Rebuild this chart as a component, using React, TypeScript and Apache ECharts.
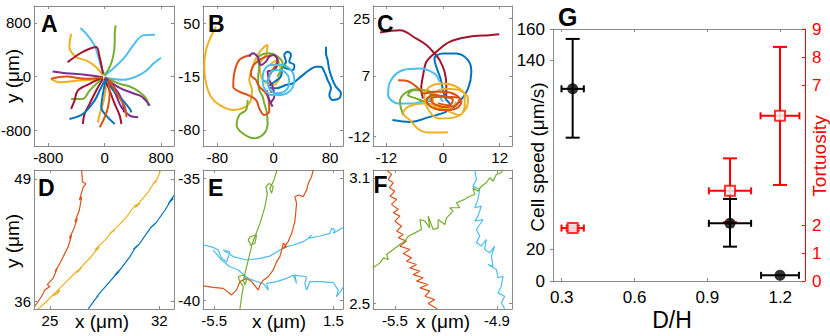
import React, { useEffect, useRef } from "react";
import * as echarts from "echarts";

// ---------- DATA ----------
// Panel A trajectories (x, y in µm)
const A_paths: number[][][] = [
  [[-343,725],[-262,640],[-143,465],[-95,315],[-48,140],[0,15]],
  [[0,15],[143,140],[286,290],[405,465],[547,615],[714,625]],
  [[0,-20],[262,-50],[452,0],[595,90],[690,190],[800,280]],
  [[0,15],[71,140],[119,290],[143,490],[143,640],[157,765]],
  [[0,-10],[214,-110],[357,-150],[500,-235],[595,-335],[619,-435]],
  [[-24,-10],[-119,-110],[-214,-210],[-309,-335],[-476,-335]],
  [[-476,640],[-500,440],[-405,290],[-262,240],[-119,140],[-24,15]],
  [[-762,-35],[-643,-85],[-357,-60],[-167,-50],[-24,-20]],
  [[24,-35],[14,-210],[-24,-410],[-71,-560],[-95,-685]],
  [[-524,215],[-357,340],[-214,415],[-119,440],[-71,290],[-24,40]],
  [[-24,-10],[-214,-110],[-381,-210],[-428,-360],[-476,-485]],
  [[-24,-35],[-119,-210],[-214,-410],[-286,-560],[-309,-710]],
  [[0,-35],[71,-210],[143,-410],[214,-585],[238,-710]],
  [[-738,75],[-547,50],[-309,30],[-24,-10]],
  [[0,-20],[214,-170],[405,-250],[524,-300],[643,-435]],
  [[24,-35],[143,-235],[238,-460],[357,-585],[476,-610]],
  [[24,-35],[190,-235],[262,-410],[271,-535]],
  [[0,-60],[-71,-210],[-143,-360],[-309,-560],[-500,-635]],
  [[14,-60],[-24,-260],[-48,-460],[24,-585],[143,-710]],
  [[24,-60],[143,-235],[262,-360],[357,-485],[381,-535]],
  [[-24,-10],[-262,-35],[-547,0],[-762,-35]],
  [[48,-60],[71,-260],[48,-460],[0,-610],[-71,-760]],
  [[71,-60],[190,-285],[286,-450],[309,-610]],
];
const A_colors = ["lb","lb","lb","g","g","g","y","y","y","dr","dr","dr","dr","p","p","p","p","b","b","b","o","o","o"];

// Panel B trajectories
const B_paths: number[][][] = [
  [[-81.9,45.9],[-89,33.7],[-96,17.5],[-98.5,-2.8],[-96,-23.1],[-89,-39.4],[-77,-49.5],[-58.2,-55.6],[-41.7,-52.4],[-32.2,-43.4],[-30.8,-31.2],[-34.6,-19.1],[-29.8,-2.8],[-22.7,11.4],[-13.3,21.5],[-8.5,23.6],[-10.9,11.4],[-20,0],[-15,-20],[0,-25],[10,-10],[5,5],[-5,0]],
  [[12.8,-2.8],[17.5,3.3],[15.1,11.4],[19.9,15.5],[24.6,11.4],[22.2,3.3],[29.4,-0.8],[27,-6.9],[17.5,-4.9],[12.8,-2.8],[10,-15],[-6.2,-27.2],[3.3,-29.2],[17.5,-25.2],[27,-23.1],[38.8,-15],[50.7,-6.9],[60.1,-2.8],[67.2,-2.8],[71.9,-8.9],[76.7,-19.1],[81.4,-29.2],[79.1,-37.3],[83.8,-43.4],[93.3,-41.4],[95.6,-35.3],[88.5,-27.2],[83.8,-19.1],[79.1,-6.9],[76.7,5.3],[74.3,13.4],[74.3,21.5]],
  [[-36.9,-43.4],[-39.3,-55.6],[-48.8,-61.7],[-52.6,-73.9],[-44.1,-84],[-27.5,-90.1],[-13.3,-84],[-8.5,-71.8],[-9.9,-57.6],[-13.3,-47.5],[-15.6,-39.4],[-20.4,-31.2],[-22,-15],[-20.4,-2.8],[-22.7,5.3],[-18,11.4],[-6.2,13.4],[5.7,9.4],[12.8,1.2],[10.4,-6.9],[5,-15]],
  [[-32.2,11.4],[-48.8,5.3],[-55.9,-10.9],[-57.3,-27.2],[-48.8,-33.3],[-36.9,-37.3],[-25.1,-43.4],[-19.4,-55.6],[-13.3,-61.7],[-6.2,-57.6],[-7.1,-43.4],[-10.9,-35.3],[-20.4,-27.2],[-25.1,-19.1],[-32.2,-13],[-29.8,-2.8],[-20.4,5.3],[-10.9,9.4],[-1.4,11.4],[5.7,5.3],[0,-5],[-8,-20],[-3,-35]],
  [[-34.6,9.4],[-29.8,13.4],[-22.7,9.4],[-18,-0.8],[-10.9,3.3],[-6.2,9.4],[0.9,11.4],[5.7,3.3],[0.9,-6.9],[-8.5,-8.9],[-6.2,-19.1],[-1.4,-27.2],[0.9,-39.4],[-3.8,-47.5],[-1.4,-51.5],[-6.2,-43.4],[-9.9,-31.2]],
  [[-15.6,-19.1],[-13.3,-6.9],[-3.8,-0.8],[10.4,-0.8],[24.6,-6.9],[29.4,-19.1],[24.6,-31.2],[10.4,-37.3],[-3.8,-37.3],[-13.3,-29.2],[-15.6,-19.1],[-8.5,-21.1],[-3.8,-8.9],[8,-6.9],[19.9,-13],[22.2,-23.1],[15.1,-33.3],[3.3,-35.3],[-6.2,-29.2],[-8.5,-21.1]],
];
const B_colors = ["y","b","g","o","p","lb"];

// Panel C trajectories
const C_paths: number[][][] = [
  [[-13.3,20.5],[-9.1,21.2],[-5.6,18.6],[-3.5,16.6],[-1.8,14],[-0.7,11.9],[0.35,8.2],[0.7,4.1],[0.7,-0.1]],
  [[11.9,20],[9.8,19.7],[5.6,19.2],[1.4,17.6],[-1.8,14],[-3.5,11.4],[-4.2,7.2],[-4.6,3],[-4.2,-0.1]],
  [[-10.7,-6.8],[-7,-7.4],[-2.8,-5.8],[0.7,-4.2],[3.5,-1.1],[5.3,3],[6,8.2],[5.3,11.9],[2.8,14],[0,14],[-1.8,12.4],[-0.5,6],[0.5,0],[1.5,-2],[0.5,-3]],
  [[-0.7,5.1],[-1.8,7.7],[-4.9,9.3],[-8.4,8.8],[-11.2,5.1],[-11.6,1],[-9.5,-1.6],[-6.3,-1.6],[-3.5,-0.6],[-1.4,1],[0,-1.1]],
  [[-8.4,-5.3],[-9.1,-1.1],[-8.1,1.5],[-5.6,2.8],[-3.2,2],[-2.1,-0.1],[-3.5,-1.1],[-5.6,-0.1],[-7.4,1],[-6.3,2.5],[-3.5,2.5],[-1.4,0.5]],
  [[1.1,-10.6],[-0.7,-10.7],[-3.2,-10.7],[-5.3,-9.5],[-7,-6.8],[-8.4,-4.7],[-7.4,-2.7],[-4.2,-1.6],[-1.4,-2.2],[1.4,-4.2],[3.5,-5.3],[4.6,-2.2],[4.6,1],[2.8,3.6],[0,4.6],[-2.8,3.6],[-3.9,0.5],[-2.8,-4.2],[-0.7,-6.3],[2.8,-5.8],[4.9,-3.2],[5.3,-0.1],[3.5,2.5],[0.7,3],[-1.8,1.5],[-2.1,-1.1],[-1.1,-3.2],[1.4,-3.2],[2.8,-1.1]],
  [[-9.5,5.6],[-7.4,5.3],[-5.6,3.6],[-3.9,1.5],[-2.1,2],[0,2],[2.8,1],[3.9,-1.1],[2.8,-3.2],[0,-3.7],[-2.5,-2.7],[-3.5,-0.6],[-2.1,1],[0.7,0.5],[3.5,-0.1],[2.8,-2.2],[0.35,-2.7],[-2.1,-1.6],[-2.5,-0.1],[-0.7,0.5],[2.1,-0.6],[1.4,-2.2],[-1.1,-1.6]],
];
const C_colors = ["dr","dr","b","lb","g","y","o"];

// Panel D trajectories
const D_paths: number[][][] = [
  [[24.04,35.47],[24.47,36.53],[24.68,37.23],[25,37.58],[24.83,37.76],[25.21,38.46],[25.47,39.51],[25.32,39.16],[25.64,40.04],[25.96,41.1],[25.85,40.74],[26.17,41.8],[26.39,43.03],[26.24,42.68],[26.54,43.73],[26.75,44.79],[26.6,44.43],[26.88,45.66],[27.03,47.07],[26.88,46.72],[27.13,48.12],[27.3,48.47],[27.09,48.65],[27.03,49.88]],
  [[24.25,35.19],[24.68,35.82],[25,36.35],[25.32,36.88],[25.64,37.16],[25.47,36.81],[25.21,36.6],[25.53,37.23],[26.07,38.11],[26.71,39.16],[27.03,39.62],[26.88,39.27],[26.71,39.06],[27.13,39.87],[27.56,40.57],[27.99,41.45],[28.16,41.73],[27.88,41.45],[28.09,41.8],[28.63,42.68],[28.95,43.38],[29.16,43.56],[28.84,43.2],[29.27,43.84],[29.91,44.96],[30.44,46.19],[30.76,46.37],[30.44,45.94],[30.76,46.54],[31.3,47.6],[31.62,48.47],[31.83,48.76],[31.57,48.4],[31.83,48.9],[32.08,49.88]],
  [[27.45,35.19],[27.88,36.18],[28.09,36.6],[27.99,36.46],[28.2,36.88],[28.84,38.11],[29.27,38.92],[29.44,39.16],[29.16,38.81],[29.48,39.34],[30.12,40.74],[30.44,41.62],[30.66,41.97],[30.34,41.52],[30.72,42.08],[31.19,43.2],[31.51,43.91],[31.72,44.19],[31.44,43.84],[31.79,44.33],[32.36,45.66],[32.68,46.54],[32.9,46.89],[32.58,46.37],[32.94,47.24]],
];
const D_colors = ["o","y","b"];

// Panel E trajectories
const E_paths: number[][][] = [
  [[-6.15,-37.73],[-5.56,-37.83],[-5.26,-37.94],[-5.07,-38.28],[-4.77,-38.42],[-4.58,-38.01],[-4.97,-37.94],[-4.38,-38.21],[-3.6,-38.35],[-2.81,-38.28],[-2.23,-38.19],[-1.64,-37.94],[-1.25,-37.8],[-0.85,-37.73],[-0.27,-37.59],[0.03,-37.46],[0.22,-37.32],[0.03,-37.46],[0.71,-37.36],[1.3,-37.25],[1.4,-37.04],[1.6,-37.11],[1.5,-37.25],[2.09,-37]],
  [[-5.56,-37.94],[-5.07,-38.35],[-4.58,-38.63],[-4.09,-38.76],[-3.5,-39.11],[-3.01,-39.24],[-2.62,-39.31],[-2.32,-39.59],[-2.42,-39.31],[-1.83,-39.24],[-1.25,-39.11],[-0.85,-38.97],[-0.66,-39.31],[-0.76,-38.97],[-0.07,-39.04],[-0.17,-39.31],[-0.07,-39.59],[0.13,-39.24],[0.71,-39.24],[1.5,-39.28],[1.79,-39.59],[1.69,-39.86],[1.99,-39.59],[2.09,-39.45]],
  [[-6.15,-39.42],[-5.56,-39.48],[-4.97,-39.52],[-4.48,-39.79],[-4.19,-39.59],[-3.99,-39.24],[-3.6,-39.11],[-3.3,-39.24],[-2.91,-39.59],[-2.81,-39.38],[-2.62,-39.18],[-2.32,-39.04],[-2.03,-38.76],[-1.83,-38.42],[-1.64,-38.21],[-1.54,-37.94],[-1.44,-37.66],[-1.25,-37.8],[-1.44,-37.87],[-1.15,-37.59],[-0.95,-37.25],[-0.76,-36.77],[-0.66,-36.02],[-0.76,-35.74],[-0.56,-35.67],[-0.27,-35.74],[-0.17,-35.6],[-0.07,-35.47],[0.03,-35.19],[0.22,-34.92],[0.32,-34.64]],
  [[-3.99,-40.38],[-3.89,-39.86],[-3.79,-39.45],[-3.99,-39.24],[-4.09,-39.04],[-3.79,-38.97],[-3.6,-39.18],[-3.7,-39.38],[-3.79,-39.18],[-3.6,-38.63],[-3.4,-38.08],[-3.3,-37.8],[-3.5,-37.53],[-3.4,-37.39],[-3.01,-37.32],[-3.11,-37.66],[-3.3,-37.73],[-3.11,-37.39],[-2.81,-36.84],[-2.52,-36.16],[-2.38,-35.6],[-2.46,-35.33],[-2.27,-35.19],[-2.03,-35.33],[-2.13,-35.6],[-2.23,-35.4],[-1.99,-35.05],[-1.87,-34.78],[-1.8,-34.64]],
];
const E_colors = ["lb","lb","o","g"];

// Panel F trajectories
const F_paths: number[][][] = [
  [[-5.549,3.137],[-5.52,3.116],[-5.539,3.092],[-5.51,3.076],[-5.533,3.052],[-5.5,3.036],[-5.529,3.012],[-5.49,2.997],[-5.52,2.973],[-5.48,2.949],[-5.51,2.933],[-5.471,2.917],[-5.5,2.893],[-5.461,2.869],[-5.49,2.845],[-5.451,2.829],[-5.48,2.814],[-5.432,2.798],[-5.471,2.774],[-5.412,2.758],[-5.451,2.739],[-5.402,2.718],[-5.432,2.702],[-5.373,2.686],[-5.412,2.67],[-5.353,2.654],[-5.393,2.638],[-5.334,2.623],[-5.373,2.607],[-5.305,2.591],[-5.353,2.575],[-5.295,2.559],[-5.324,2.535],[-5.266,2.519],[-5.305,2.5],[-5.252,2.475]],
  [[-5.031,3.137],[-5.021,3.092],[-5.041,3.06],[-5.002,3.044],[-5.012,2.997],[-5.031,2.957],[-4.992,2.965],[-5.012,2.917],[-5.031,2.893],[-4.982,2.901],[-5.021,2.853],[-5.002,2.821],[-5.021,2.79],[-4.992,2.774],[-4.963,2.806],[-4.973,2.758],[-4.943,2.742],[-4.914,2.774],[-4.933,2.726],[-4.924,2.678],[-4.953,2.686],[-4.904,2.662],[-4.894,2.623],[-4.865,2.63],[-4.875,2.583],[-4.894,2.551],[-4.855,2.535],[-4.875,2.503],[-4.855,2.475]],
  [[-5.631,2.67],[-5.588,2.694],[-5.568,2.718],[-5.539,2.71],[-5.549,2.734],[-5.51,2.758],[-5.471,2.782],[-5.441,2.798],[-5.422,2.821],[-5.383,2.837],[-5.344,2.853],[-5.353,2.901],[-5.324,2.893],[-5.295,2.861],[-5.305,2.917],[-5.275,2.853],[-5.246,2.861],[-5.246,2.901],[-5.207,2.877],[-5.197,2.909],[-5.158,2.941],[-5.178,2.957],[-5.119,2.957],[-5.139,2.981],[-5.09,2.997],[-5.06,3.012],[-5.031,3.02],[-5.041,3.052],[-5.012,3.036],[-4.992,3.06],[-4.963,3.076],[-4.943,3.1],[-4.924,3.084],[-4.904,3.116],[-4.875,3.124],[-4.865,3.14]],
];
const F_colors = ["o","lb","g"];

// Panel G
const dh = [0.345, 0.993, 1.199];
const dhErrSpeed = [0.046, 0.087, 0.078];
const speed = [122, 36.6, 3.6];
const speedLo = [91, 21.8, 3.6];
const speedHi = [153.7, 52.1, 3.6];
const dhErrTort = [0.046, 0.087, 0.08];
const tortuosity = [1.89, 3.22, 5.9];
const tortLo = [1.8, 2.1, 3.43];
const tortHi = [1.98, 4.38, 8.36];

// Axis ranges and tick labels per panel (A..G)
const xRanges = [[-1003, 985], [-100.3, 98.5], [-14.8, 14.6], [23.98, 32.94], [-6.16, 2.07], [-5.629, -4.812], [0.264, 1.302]];
const yRanges = [[-1039, 1054], [-99.5, 71.1], [-14.9, 28.8], [35.18, 49.93], [-40.37, -34.64], [2.474, 3.137], [0, 160]];
const xTicks = [[-800, 0, 800], [-80, 0, 80], [-12, 0, 12], [25, 32], [-5.5, 1.5], [-5.5, -4.9], [0.3, 0.6, 0.9, 1.2]];
const yTicks = [[-800, 0, 800], [-80, -15, 50], [-12, 7, 25], [36, 49], [-40, -35], [2.5, 3.1], [0, 20, 140, 160]];
const tortRange = [0, 9];
const tortTicks = [0, 1, 2, 7, 8, 9];
const panelLetters = ["A", "B", "C", "D", "E", "F", "G"];

// ---------- STYLE / LAYOUT ----------
const PALETTE: Record<string, string> = {
  b: "#0072BD", o: "#D95319", y: "#EDB120", p: "#7E2F8E", g: "#77AC30", lb: "#4DBEEE", dr: "#A2142F",
};
const FONT = '"Liberation Sans", Arial, Helvetica, sans-serif';
const FRAME = "#8a8a8a";
const RED = "#FF0000";
const BOXES = [
  { left: 34, top: 6, width: 140, height: 140 },
  { left: 203, top: 6, width: 140, height: 140 },
  { left: 373, top: 6, width: 139, height: 140 },
  { left: 34, top: 170, width: 140, height: 139 },
  { left: 203, top: 170, width: 140, height: 139 },
  { left: 373, top: 170, width: 139, height: 139 },
  { left: 553, top: 29, width: 252, height: 252 },
];
const LETTER_POS = [[41, 23.5], [208, 23.5], [377, 23.5], [38, 187.5], [208, 187.5], [373.5, 185], [558, 17]];

const fmt = (v: number) => String(+Number(v).toFixed(4));

function axis(dim: "x" | "y", gi: number, range: number[], ticks: number[], primary: boolean, o: any = {}) {
  const pos = dim === "x" ? (primary ? "bottom" : "top") : primary ? "left" : "right";
  const lineColor = o.lineColor || FRAME;
  return {
    type: "value",
    gridIndex: gi,
    position: pos,
    min: range[0],
    max: range[1],
    scale: true,
    axisLine: { show: true, onZero: false, lineStyle: { color: lineColor, width: 1 } },
    axisTick: {
      show: true,
      inside: o.inside !== undefined ? o.inside : true,
      length: 3,
      customValues: ticks,
      lineStyle: { color: lineColor, width: 1 },
    },
    axisLabel: {
      show: primary || !!o.showLabel,
      customValues: ticks,
      formatter: fmt,
      fontSize: o.fontSize || 15,
      fontFamily: FONT,
      color: o.labelColor || "#000",
      margin: o.margin !== undefined ? o.margin : 3,
      hideOverlap: false,
      showMinLabel: true,
      showMaxLabel: true,
    },
    splitLine: { show: false },
  };
}

function buildOption() {
  const grid = BOXES.map((b) => ({ ...b, outerBoundsMode: "none", containLabel: false }));
  const xAxis: any[] = [];
  const yAxis: any[] = [];
  for (let p = 0; p < 6; p++) {
    xAxis.push(axis("x", p, xRanges[p], xTicks[p], true, { margin: 4 }));
    xAxis.push(axis("x", p, xRanges[p], xTicks[p], false));
    yAxis.push(axis("y", p, yRanges[p], yTicks[p], true, { margin: 3 }));
    yAxis.push(axis("y", p, yRanges[p], yTicks[p], false));
  }
  // G
  xAxis.push(axis("x", 6, xRanges[6], xTicks[6], true, { margin: 8, fontSize: 17 }));
  xAxis.push(axis("x", 6, xRanges[6], xTicks[6], false));
  yAxis.push(axis("y", 6, yRanges[6], yTicks[6], true, { margin: 8, fontSize: 17, inside: false }));
  yAxis.push(axis("y", 6, tortRange, tortTicks, false, { showLabel: true, margin: 7, fontSize: 17, lineColor: RED, labelColor: RED }));

  const series: any[] = [];
  const allPaths = [A_paths, B_paths, C_paths, D_paths, E_paths, F_paths];
  const allColors = [A_colors, B_colors, C_colors, D_colors, E_colors, F_colors];
  allPaths.forEach((paths, p) => {
    paths.forEach((pts, i) => {
      series.push({
        type: "line",
        xAxisIndex: 2 * p,
        yAxisIndex: 2 * p,
        data: pts,
        showSymbol: false,
        symbol: "none",
        smooth: p < 3 ? 0.35 : false,
        clip: true,
        silent: true,
        lineStyle: { color: PALETTE[allColors[p][i]], width: p < 3 ? 2 : 1.2 },
      });
    });
  });

  const errSeries = (data: number[][], yIdx: number, color: string) => ({
    type: "custom",
    xAxisIndex: 12,
    yAxisIndex: yIdx,
    data,
    encode: { x: 0, y: 1 },
    clip: false,
    silent: true,
    renderItem: (_params: any, api: any) => {
      const x = api.value(0), y = api.value(1);
      const xl = api.coord([api.value(2), y]);
      const xh = api.coord([api.value(3), y]);
      const yl = api.coord([x, api.value(4)]);
      const yh = api.coord([x, api.value(5)]);
      const st = { stroke: color, lineWidth: 2 };
      const capH = 3.5, capV = 7;
      const children: any[] = [
        { type: "line", shape: { x1: xl[0], y1: xl[1], x2: xh[0], y2: xh[1] }, style: st },
        { type: "line", shape: { x1: xl[0], y1: xl[1] - capH, x2: xl[0], y2: xl[1] + capH }, style: st },
        { type: "line", shape: { x1: xh[0], y1: xh[1] - capH, x2: xh[0], y2: xh[1] + capH }, style: st },
      ];
      if (Math.abs(yl[1] - yh[1]) > 0.5) {
        children.push(
          { type: "line", shape: { x1: yl[0], y1: yl[1], x2: yh[0], y2: yh[1] }, style: st },
          { type: "line", shape: { x1: yl[0] - capV, y1: yl[1], x2: yl[0] + capV, y2: yl[1] }, style: st },
          { type: "line", shape: { x1: yh[0] - capV, y1: yh[1], x2: yh[0] + capV, y2: yh[1] }, style: st }
        );
      }
      return { type: "group", children };
    },
  });

  const speedData = dh.map((x, i) => [x, speed[i], x - dhErrSpeed[i], x + dhErrSpeed[i], speedLo[i], speedHi[i]]);
  const tortData = dh.map((x, i) => [x, tortuosity[i], x - dhErrTort[i], x + dhErrTort[i], tortLo[i], tortHi[i]]);
  series.push(errSeries(tortData, 13, RED));
  series.push(errSeries(speedData, 12, "#000"));
  series.push({
    type: "scatter", xAxisIndex: 12, yAxisIndex: 12, silent: true,
    data: dh.map((x, i) => [x, speed[i]]),
    symbol: "circle", symbolSize: 11, itemStyle: { color: "#000" }, z: 5,
  });
  series.push({
    type: "scatter", xAxisIndex: 12, yAxisIndex: 13, silent: true,
    data: dh.map((x, i) => [x, tortuosity[i]]),
    symbol: "rect", symbolSize: 10, itemStyle: { color: "#fff", borderColor: RED, borderWidth: 2 }, z: 5,
  });

  const txt = (text: string, x: number, y: number, size: number, o: any = {}) => ({
    type: "text",
    x, y,
    rotation: o.rot || 0,
    z: 100,
    silent: true,
    style: {
      text,
      fontSize: size,
      fontFamily: FONT,
      fontWeight: o.bold ? "bold" : "normal",
      fill: o.color || "#000",
      align: o.align || "center",
      verticalAlign: "middle",
    },
  });
  const graphic: any[] = [];
  panelLetters.forEach((L, i) => {
    graphic.push(txt(L, LETTER_POS[i][0], LETTER_POS[i][1], i === 6 ? 25 : 23, { bold: true, align: "left" }));
  });
  graphic.push(txt("y (μm)", 12, 76, 19, { rot: Math.PI / 2 }));
  graphic.push(txt("y (μm)", 12, 241, 19, { rot: Math.PI / 2 }));
  graphic.push(txt("x (μm)", 102, 321, 19));
  graphic.push(txt("x (μm)", 279, 321, 19));
  graphic.push(txt("x (μm)", 443, 321, 19));
  graphic.push(txt("Cell speed (μm/s)", 537, 157, 19, { rot: Math.PI / 2 }));
  graphic.push(txt("Tortuosity", 819, 156, 19, { rot: Math.PI / 2, color: RED }));
  graphic.push(txt("D/H", 672, 320, 23));

  return {
    animation: false,
    backgroundColor: "#ffffff",
    grid,
    xAxis,
    yAxis,
    series,
    graphic,
  };
}

export default function App() {
  const ref = useRef<HTMLDivElement>(null);
  useEffect(() => {
    if (!ref.current) return;
    const chart = echarts.init(ref.current, null, { renderer: "svg" });
    chart.setOption(buildOption() as any);
    return () => chart.dispose();
  }, []);
  return (
    <div
      ref={ref}
      style={{ position: "fixed", left: 0, top: 0, width: 830, height: 336, background: "#fff" }}
    />
  );
}
